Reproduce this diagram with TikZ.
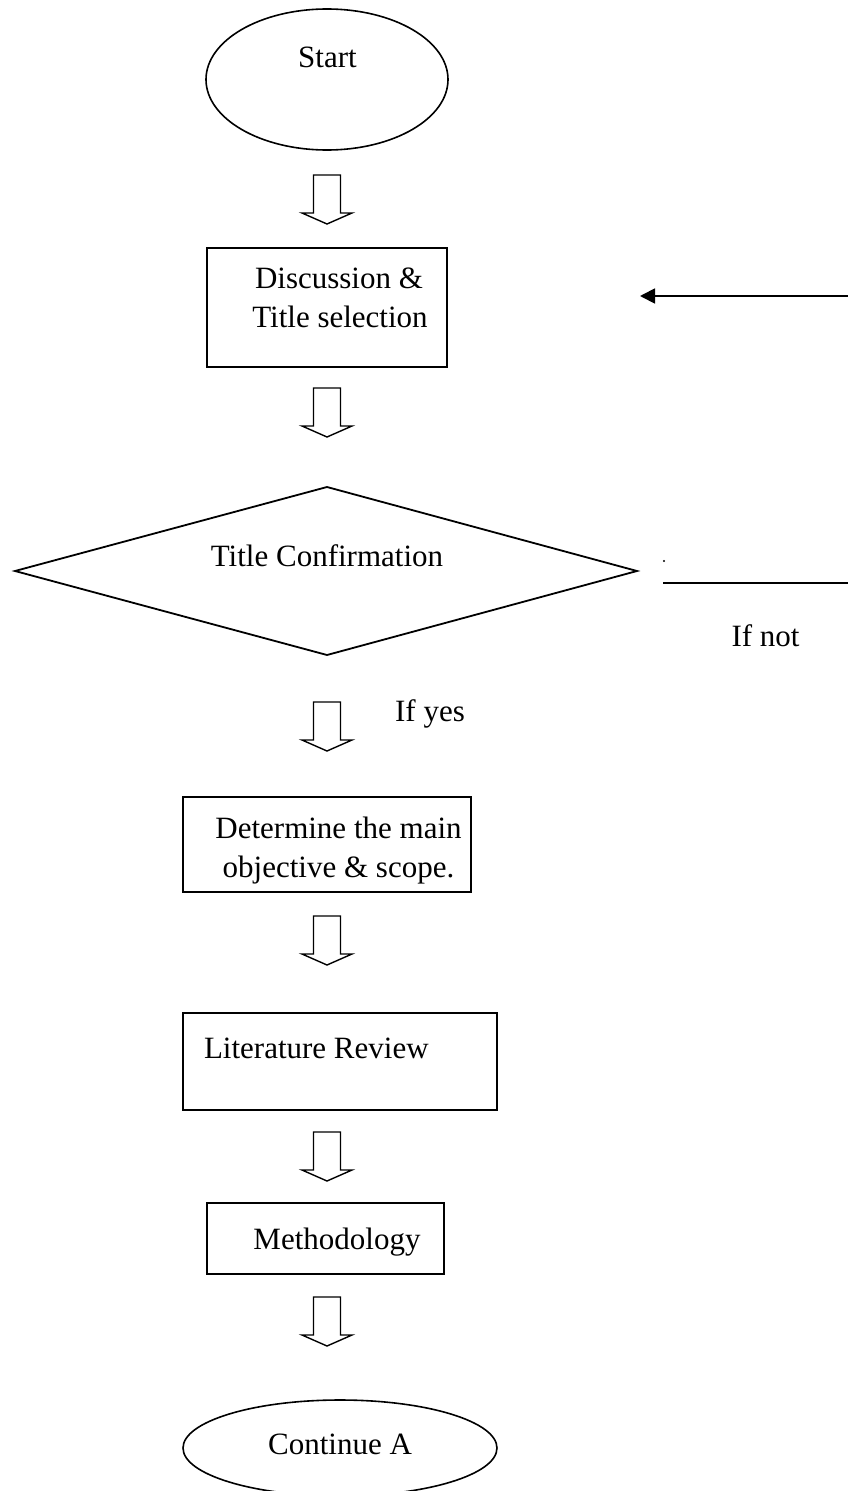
\documentclass[tikz,border=0pt]{standalone}
\usepackage{fontspec}
\setmainfont{Liberation Serif}
\usetikzlibrary{arrows.meta,shapes.geometric}
\begin{document}
\begin{tikzpicture}[x=1pt,y=-1pt,
  every node/.style={inner sep=0pt, outer sep=0pt},
  lbl/.style={font=\fontsize{31}{39}\selectfont, anchor=base},
  boxnode/.style={draw, line width=1.8pt, rectangle},
  ovalnode/.style={draw, line width=1.6pt, ellipse},
  conn/.style={line width=1.8pt},
  barrow/.pic={\draw[line width=1.4pt, line join=miter]
     (-13.5,0) -- (13.5,0) -- (13.5,38) -- (25,38) -- (0,49) -- (-25,38) -- (-13.5,38) -- cycle;}
]
\useasboundingbox (0,0) rectangle (848,1491);
\clip (0,0) rectangle (848,1491);

% shapes
\node[ovalnode, minimum width=242pt, minimum height=141pt] (start) at (327,79.5) {};
\node[boxnode, minimum width=240pt, minimum height=119pt] (disc) at (327,307.5) {};
\coordinate (dL) at (15,571);
\coordinate (dT) at (327,487);
\coordinate (dR) at (637,571);
\coordinate (dB) at (327,655);
\draw[line width=1.8pt, line join=miter] (dL) -- (dT) -- (dR) -- (dB) -- cycle;
\node[boxnode, minimum width=288pt, minimum height=95pt] (obj) at (327,844.5) {};
\node[boxnode, minimum width=314pt, minimum height=97pt] (lit) at (340,1061.5) {};
\node[boxnode, minimum width=237pt, minimum height=71pt] (meth) at (325.5,1238.5) {};
\node[ovalnode, minimum width=314pt, minimum height=96pt] (cont) at (340,1448) {};

% block arrows
\pic at (327,175) {barrow};
\pic at (327,388) {barrow};
\pic at (327,702) {barrow};
\pic at (327,916) {barrow};
\pic at (327,1132) {barrow};
\pic at (327,1297) {barrow};

% texts
\node[lbl] (tstart) at (327.5,67) {Start};
\node[lbl] (tdisc1) at (339,288) {Discussion \&};
\node[lbl] (tdisc2) at (340,327) {Title selection};
\node[lbl] (tconf) at (327,566) {Title Confirmation};
\node[lbl] (tifnot) at (765.5,646) {If not};
\node[lbl] (tifyes) at (430,721) {If yes};
\node[lbl] (tobj1) at (338.5,838) {Determine the main};
\node[lbl] (tobj2) at (338.5,877) {objective \& scope.};
\node[lbl, anchor=base west] (tlit) at (204,1058) {Literature Review};
\node[lbl] (tmeth) at (337,1249) {Methodology};
\node[lbl] (tcont) at (340,1454) {Continue A};

% loop connectors
\coordinate (backR) at (848,296);
\coordinate (backL) at (640,296);
\draw[conn, -{Triangle[length=15pt,width=15pt]}] (backR) -- (backL);
\coordinate (notL) at (663,583);
\coordinate (notR) at (848,583);
\draw[conn] (notL) -- (notR);
\fill (664,561) circle (1.2);
\end{tikzpicture}
\end{document}
